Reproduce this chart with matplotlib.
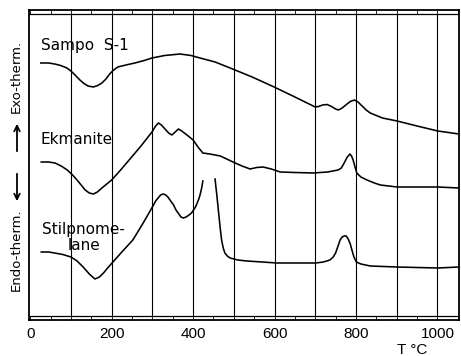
import numpy as np
import matplotlib
matplotlib.use('Agg')
import matplotlib.pyplot as plt
from matplotlib.ticker import MultipleLocator

# DTA curves, temperature [C] vs signal [a.u., offset per sample]
sampo_t = [26, 45, 60, 75, 90, 100, 110, 122, 132, 142, 155, 166, 176, 186,
           195, 205, 215, 235, 257, 280, 299, 330, 368, 395, 417, 454, 491,
           545, 599, 650, 700, 708, 718, 729, 740, 750, 757, 766, 775, 786,
           796, 805, 815, 825, 835, 865, 901, 950, 1001, 1053]
sampo_v = [256, 256, 255, 253.5, 251, 248, 244, 239, 235.5, 233, 232, 233.5,
           236, 240, 245, 249, 252, 254, 256, 258.5, 261, 263.5, 265, 263.5,
           261, 257, 251, 242, 232, 222, 212, 212.5, 214, 214.5, 212.5, 210,
           209, 211, 214, 217.5, 219, 217, 213, 209, 206, 201, 198, 193, 188,
           185]

ekman_t = [27, 45, 61, 76, 91, 104, 115, 125, 135, 145, 155, 165, 176, 188,
           200, 222, 245, 272, 299, 308, 315, 322, 331, 340, 348, 356, 364,
           372, 385, 400, 412, 424, 441, 467, 498, 520, 540, 556, 572, 592,
           614, 650, 695, 730, 756, 764, 771, 778, 785, 789, 793, 797, 802,
           812, 827, 845, 860, 901, 1001, 1053]
ekman_v = [157, 157, 156, 153, 149, 144, 139, 134, 129, 126, 125, 127, 131,
           135, 139, 149, 160, 173, 187, 193, 196, 194, 190, 186, 184, 187,
           190, 188, 184, 179, 172, 166, 165, 163, 157, 153, 150, 151.5, 152,
           150, 147, 146.5, 146, 147, 149, 151, 156, 161.5, 165, 163, 159,
           153, 146, 142, 139, 136, 134, 132, 132, 131]

stilp_t1 = [27, 45, 60, 80, 100, 115, 130, 145, 159, 170, 180, 190, 201, 225,
            252, 276, 300, 308, 314, 320, 327, 333, 338, 345, 352, 358, 365,
            370, 376, 383, 390, 396, 401, 406, 410, 414, 417, 421, 424]
stilp_v1 = [67, 67, 66, 64.5, 62, 58, 52, 45, 40, 42, 46, 51, 56, 67, 79, 95,
            112, 118, 121, 124, 125, 124, 122, 118, 114, 109, 105, 102, 101,
            102, 104, 106, 109, 112, 116, 120, 124, 131, 138]
stilp_t2 = [454, 456, 458, 460, 462, 464, 466, 468, 470, 474, 478, 484, 491,
            510, 532, 570, 606, 650, 701, 720, 736, 744, 750, 756, 761, 766,
            771, 776, 781, 786, 790, 795, 801, 812, 835, 900, 1001, 1053]
stilp_v2 = [140, 132, 125, 117, 109, 101, 93, 86, 79, 71, 66, 63, 61, 59, 58,
            57, 56, 56, 56, 57, 59, 62, 66, 73, 79, 82, 83, 83, 80, 75, 69, 62,
            57, 55, 53, 52, 51, 52]

xticks = [0, 200, 400, 600, 800, 1000]
grid_t = [100, 200, 300, 400, 500, 600, 700, 800, 900, 1000]

fig = plt.figure(figsize=(4.61, 3.56), dpi=100)
ax = fig.add_axes([29/461, 1-320/356, 430/461, 310/356])
ax.set_xlim(-3, 1053)
ax.set_ylim(-1, 309)

lw = 1.15
ax.plot(sampo_t, sampo_v, color='k', lw=lw)
ax.plot(ekman_t, ekman_v, color='k', lw=lw)
ax.plot(stilp_t1, stilp_v1, color='k', lw=lw)
ax.plot(stilp_t2, stilp_v2, color='k', lw=lw)

ax.vlines(grid_t, 3, 305, color='k', lw=0.8)
ax.axhline(3, color='k', lw=0.9)
ax.axhline(305, color='k', lw=0.9)

for s in ax.spines.values():
    s.set_linewidth(1.3)

ax.set_xticks(xticks)
ax.xaxis.set_minor_locator(MultipleLocator(50))
ax.tick_params(axis='x', which='both', direction='in', top=True, length=3,
               width=0.6, pad=5, labelsize=11)
for lab in ax.get_xticklabels():
    lab.set_family('Liberation Sans')
ax.set_yticks([])

ax.text(26, 269, 'Sampo  S-1', fontsize=11, va='baseline')
ax.text(26, 175, 'Ekmanite', fontsize=11, va='baseline')
ax.text(131, 69, 'Stilpnome-\nlane', fontsize=11, va='baseline',
        ha='center', multialignment='center', linespacing=1.05)

fig.text(412/461, 1-350/356, 'T \u00b0C', fontsize=11, ha='center',
         va='center', family='Liberation Sans')

fig.text(16/461, 1-76.5/356, 'Exo-therm.', rotation=90, fontsize=9.5,
         ha='center', va='center')
fig.text(16/461, 1-250/356, 'Endo-therm.', rotation=90, fontsize=9.5,
         ha='center', va='center')
fig.add_artist(matplotlib.patches.FancyArrowPatch(
    (17/461, 1-154/356), (17/461, 1-121/356), transform=fig.transFigure,
    arrowstyle='->', mutation_scale=10, lw=1.3, color='k'))
fig.add_artist(matplotlib.patches.FancyArrowPatch(
    (17/461, 1-171/356), (17/461, 1-204/356), transform=fig.transFigure,
    arrowstyle='->', mutation_scale=10, lw=1.3, color='k'))

fig.savefig('out.png', dpi=100)
